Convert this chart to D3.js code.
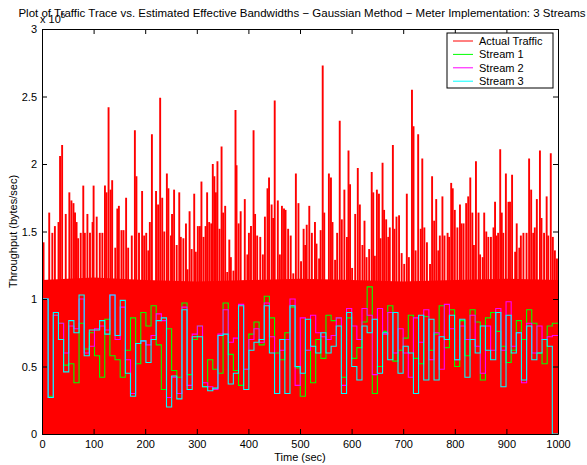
<!DOCTYPE html>
<html>
<head>
<meta charset="utf-8">
<script src="https://cdn.jsdelivr.net/npm/d3@7"></script>
<style>
body { margin: 0; background: #fff; }
text { font-family: "Liberation Sans", Arial, Helvetica, sans-serif; }
</style>
</head>
<body>
<div id="chart"></div>
<script>
// traffic peaks (x 10^5 bytes/sec)
var trafficTime = [3,14,20,25,32,35,39,46,53,57,61,64,67,70,75,80,83,88,93,98,100,106,112,117,122,125,129,133,136,142,146,149,154,158,163,167,174,180,183,188,194,198,202,206,209,213,221,225,229,233,237,242,245,250,
    252,256,261,266,269,274,279,282,286,290,295,298,302,306,309,313,317,320,324,328,331,334,337,340,344,348,351,355,359,363,366,371,375,377,381,385,389,393,398,401,405,410,413,417,423,428,432,437,440,445,448,451,457,461,465,469,472,477,482,487,492,497,502,
    507,510,513,518,523,529,532,537,540,544,547,552,556,560,563,568,572,577,581,586,591,594,597,601,607,612,616,621,625,629,634,639,642,645,649,653,656,660,663,667,671,674,680,683,687,692,697,702,707,711,717,720,724,729,734,737,741,746,752,
    756,760,764,768,771,776,780,786,789,793,796,800,805,810,813,817,822,826,830,834,837,841,846,849,854,857,861,865,870,875,878,881,884,888,891,894,899,904,907,911,917,920,925,928,933,939,944,948,952,955,959,965,968,973,978,981,986,990,994,998];
var trafficPeak = [1.42,1.64,1.49,1.54,1.57,2.06,2.14,1.63,1.79,1.73,1.71,1.64,1.57,1.45,1.49,1.84,1.49,1.63,1.49,1.57,1.84,1.61,1.49,1.49,1.84,1.79,2.42,1.81,1.88,1.38,1.67,1.69,1.51,1.51,1.75,1.38,1.47,2.25,1.91,1.49,1.80,1.47,1.49,1.36,1.57,2.22,1.80,1.70,2.49,1.75,1.50,1.93,1.82,1.47,
    1.63,1.81,1.40,1.79,1.46,1.45,1.56,1.22,1.65,1.37,1.78,1.35,1.54,1.54,1.87,1.46,1.54,1.79,1.57,1.56,2.00,1.91,1.79,2.02,1.52,2.13,1.64,1.69,1.20,1.44,1.31,1.21,2.40,1.99,1.56,1.65,1.12,1.74,1.33,1.49,1.54,2.25,1.63,1.47,1.46,1.33,1.61,1.82,1.90,1.70,1.60,2.47,1.73,1.33,1.69,1.67,1.66,1.52,1.47,1.19,1.93,1.71,1.28,
    1.52,1.40,1.55,1.69,1.49,1.57,1.41,1.30,1.51,2.73,1.64,1.14,1.93,1.90,1.57,1.29,1.49,2.32,1.59,1.81,1.46,2.10,1.85,1.23,1.63,1.97,1.70,1.40,1.58,1.31,1.37,1.94,1.79,1.32,1.81,1.78,1.45,2.01,1.66,1.59,1.46,1.53,2.14,1.52,1.61,1.62,1.34,1.26,1.78,1.31,2.55,2.28,1.36,2.22,1.52,2.04,1.53,1.42,1.26,
    1.91,1.58,1.74,1.36,1.47,1.76,1.47,1.49,1.46,1.86,1.82,1.66,1.53,1.70,1.56,1.56,1.71,1.76,1.90,1.64,1.40,2.02,1.64,1.33,1.31,1.64,1.50,1.46,1.46,1.53,1.72,1.47,1.49,2.11,1.64,1.49,1.93,1.72,1.72,1.92,1.35,1.56,1.38,1.47,1.49,1.49,2.04,1.81,1.49,1.53,1.74,2.10,1.60,1.49,1.76,1.47,2.08,1.46,1.36,1.30];
// solid part of the trace, every 100 sec
var floorTime = [0,100,200,300,400,500,600,700,800,900,1000];
var trafficFloor = [1.14,1.16,1.14,1.13,1.14,1.15,1.14,1.13,1.14,1.15,1.14];

// effective bandwidth estimates, one value per ~10 sec interval
var stream1 = [1.00,0.28,0.88,0.82,0.51,0.52,0.38,0.82,0.63,0.75, 0.58,0.42,0.85,0.58,0.55,0.42,0.62,0.86,0.52,0.90, 0.80,0.95,0.66,0.33,0.78,0.47,0.42,0.97,0.44,0.70, 0.80,0.35,0.55,0.48,0.45,0.97,0.59,0.47,0.36,0.48, 0.74,0.83,0.66,1.02,0.86,0.60,0.55,0.75,0.94,0.49, 0.28,0.62,0.38,0.70,0.56,0.88,0.84,0.86,0.42,0.86, 0.56,0.64,0.83,1.09,0.30,0.50,0.76,0.95,0.54,0.62, 0.71,0.88,0.56,0.52,0.87,0.62,0.74,0.95,0.64,0.92, 0.50,0.84,0.58,0.92,0.83,0.40,0.86,0.90,0.76,0.65, 0.53,0.62,0.84,0.70,0.92,0.82,0.60,0.52,0.80,0.82];
var stream2 = [1.00,0.27,0.88,0.82,0.60,0.80,0.78,1.00,0.60,0.65, 0.78,0.80,0.77,1.03,0.70,0.94,0.55,0.30,0.67,0.69, 0.66,0.73,0.89,0.84,0.27,0.42,0.30,0.94,0.36,0.74, 0.80,0.38,0.35,0.33,0.74,0.92,0.68,0.71,0.96,0.48, 0.70,0.78,0.68,0.97,0.72,0.30,0.62,0.70,1.00,0.36, 0.86,0.62,0.88,0.75,0.72,0.70,0.73,0.86,0.36,0.93, 0.80,0.70,0.93,0.88,0.44,0.93,0.74,0.90,0.60,0.78, 0.60,0.42,0.86,0.68,0.92,0.55,0.75,0.48,0.96,0.78, 0.55,0.80,0.70,0.88,0.65,0.45,0.80,0.62,0.93,0.62, 0.98,0.65,0.75,0.38,0.82,0.60,0.80,0.70,0.72,0.73];
var stream3 = [1.00,0.27,0.90,0.70,0.46,0.84,0.75,1.03,0.58,0.77, 0.77,0.84,0.74,1.03,0.73,0.99,0.45,0.28,0.67,0.69, 0.53,0.70,0.84,0.86,0.20,0.43,0.26,0.92,0.33,0.72, 0.72,0.35,0.32,0.34,0.73,0.74,0.37,0.45,0.95,0.33, 0.62,0.68,0.70,0.95,0.60,0.30,0.70,0.30,0.95,0.50, 0.45,0.85,0.65,0.60,0.75,0.60,0.65,0.80,0.30,0.90, 0.50,0.40,0.80,0.75,0.85,0.45,0.75,0.55,0.90,0.45, 0.65,0.60,0.30,0.88,0.40,0.85,0.40,0.72,0.70,0.88, 0.55,0.85,0.42,0.70,0.60,0.80,0.62,0.55,0.90,0.35, 0.88,0.60,0.75,0.40,0.80,0.55,0.60,0.70,0.65,0.00];

var xTicks = [0,100,200,300,400,500,600,700,800,900,1000];
var yTicks = [0,0.5,1,1.5,2,2.5,3];
var seriesNames = ["Actual Traffic","Stream 1","Stream 2","Stream 3"];
var seriesColors = ["#ff0000","#00ff00","#ff00ff","#00ffff"];

var width = 587, height = 465;
var margin = {left: 42, right: 29, top: 29, bottom: 31};

var svg = d3.select('#chart').append('svg')
    .attr('width', width)
    .attr('height', height);

var x = d3.scaleLinear().domain([0, 1000]).range([margin.left, width - margin.right]);
var y = d3.scaleLinear().domain([0, 3]).range([height - margin.bottom, margin.top]);

var plot = svg.append('g');
svg.append('clipPath').attr('id', 'clip').append('rect')
    .attr('x', x(0)).attr('y', y(3))
    .attr('width', x(1000) - x(0)).attr('height', y(0) - y(3));
plot.attr('clip-path', 'url(#clip)');

// traffic: spikes then the solid floor
plot.selectAll('.spike')
    .data(trafficTime)
    .enter()
    .append('line')
    .attr('class', 'spike')
    .attr('x1', function(d) { return x(d); })
    .attr('x2', function(d) { return x(d); })
    .attr('y1', y(0))
    .attr('y2', function(d, i) { return y(trafficPeak[i]); })
    .attr('stroke', seriesColors[0])
    .attr('stroke-width', 1.9);

var floorArea = d3.area()
    .x(function(d) { return x(d[0]); })
    .y0(y(0))
    .y1(function(d) { return y(d[1]); });
plot.append('path')
    .datum(floorTime.map(function(t, i) { return [t, trafficFloor[i]]; }))
    .attr('d', floorArea)
    .attr('fill', seriesColors[0]);

// streams as steps
function stepPoints(vals) {
    var pts = vals.map(function(v, i) {
        return [i === 0 ? 0 : 2 + i * 9.97, v];
    });
    pts.push([1000, vals[vals.length - 1]]);
    return pts;
}
var stepLine = d3.line()
    .x(function(d) { return x(d[0]); })
    .y(function(d) { return y(d[1]); })
    .curve(d3.curveStepAfter);

[stream1, stream2, stream3].forEach(function(s, i) {
    plot.append('path')
        .datum(stepPoints(s))
        .attr('d', stepLine)
        .attr('fill', 'none')
        .attr('stroke', seriesColors[i + 1])
        .attr('stroke-width', 1.1);
});

// axes box with inward ticks (all four sides)
var tickLen = 5;
var xAxisB = d3.axisBottom(x).tickValues(xTicks).tickSizeInner(-tickLen).tickSizeOuter(0).tickPadding(6).tickFormat(d3.format('d'));
var xAxisT = d3.axisTop(x).tickValues(xTicks).tickSizeInner(-tickLen).tickSizeOuter(0).tickFormat('');
var yAxisL = d3.axisLeft(y).tickValues(yTicks).tickSizeInner(-tickLen).tickSizeOuter(0).tickPadding(5).tickFormat(d3.format('~g'));
var yAxisR = d3.axisRight(y).tickValues(yTicks).tickSizeInner(-tickLen).tickSizeOuter(0).tickFormat('');

function styleAxis(g) {
    g.selectAll('path').attr('stroke', '#000').attr('stroke-width', 1);
    g.selectAll('line').attr('stroke', '#000');
    g.selectAll('text').attr('font-size', 11).attr('fill', '#000')
        .style('font-family', '"Liberation Sans", Arial, sans-serif');
}
svg.append('g').attr('transform', 'translate(0,' + y(0) + ')').call(xAxisB).call(styleAxis);
svg.append('g').attr('transform', 'translate(0,' + y(3) + ')').call(xAxisT).call(styleAxis);
svg.append('g').attr('transform', 'translate(' + x(0) + ',0)').call(yAxisL).call(styleAxis);
svg.append('g').attr('transform', 'translate(' + x(1000) + ',0)').call(yAxisR).call(styleAxis);

// exponent label (partly hidden under the title, as in the original)
var expo = svg.append('text').attr('x', 40).attr('y', 23).attr('font-size', 11);
expo.append('tspan').text('x 10');
expo.append('tspan').attr('dy', -5).attr('font-size', 8).text('5');

// title and axis labels
svg.append('text')
    .attr('x', 302).attr('y', 17)
    .attr('text-anchor', 'middle')
    .attr('font-size', 11.5)
    .text('Plot of Traffic Trace vs. Estimated Effective Bandwidths \u2212 Gaussian Method \u2212 Meter Implementation: 3 Streams');

svg.append('text')
    .attr('x', x(500)).attr('y', 461)
    .attr('text-anchor', 'middle')
    .attr('font-size', 11)
    .text('Time (sec)');

svg.append('text')
    .attr('transform', 'translate(17,' + y(1.5) + ') rotate(-90)')
    .attr('text-anchor', 'middle')
    .attr('font-size', 11)
    .text('Throughput (bytes/sec)');

// legend
var legend = svg.append('g').attr('transform', 'translate(447,33)');
legend.append('rect')
    .attr('width', 106).attr('height', 55)
    .attr('fill', '#fff').attr('stroke', '#000');
var items = legend.selectAll('.legend')
    .data(seriesNames)
    .enter()
    .append('g')
    .attr('class', 'legend')
    .attr('transform', function(d, i) { return 'translate(0,' + (8 + i * 13.4) + ')'; });
items.append('line')
    .attr('x1', 6).attr('x2', 26)
    .attr('stroke', function(d, i) { return seriesColors[i]; });
items.append('text')
    .attr('x', 32).attr('y', 4)
    .attr('font-size', 11)
    .text(function(d) { return d; });
</script>
</body>
</html>
